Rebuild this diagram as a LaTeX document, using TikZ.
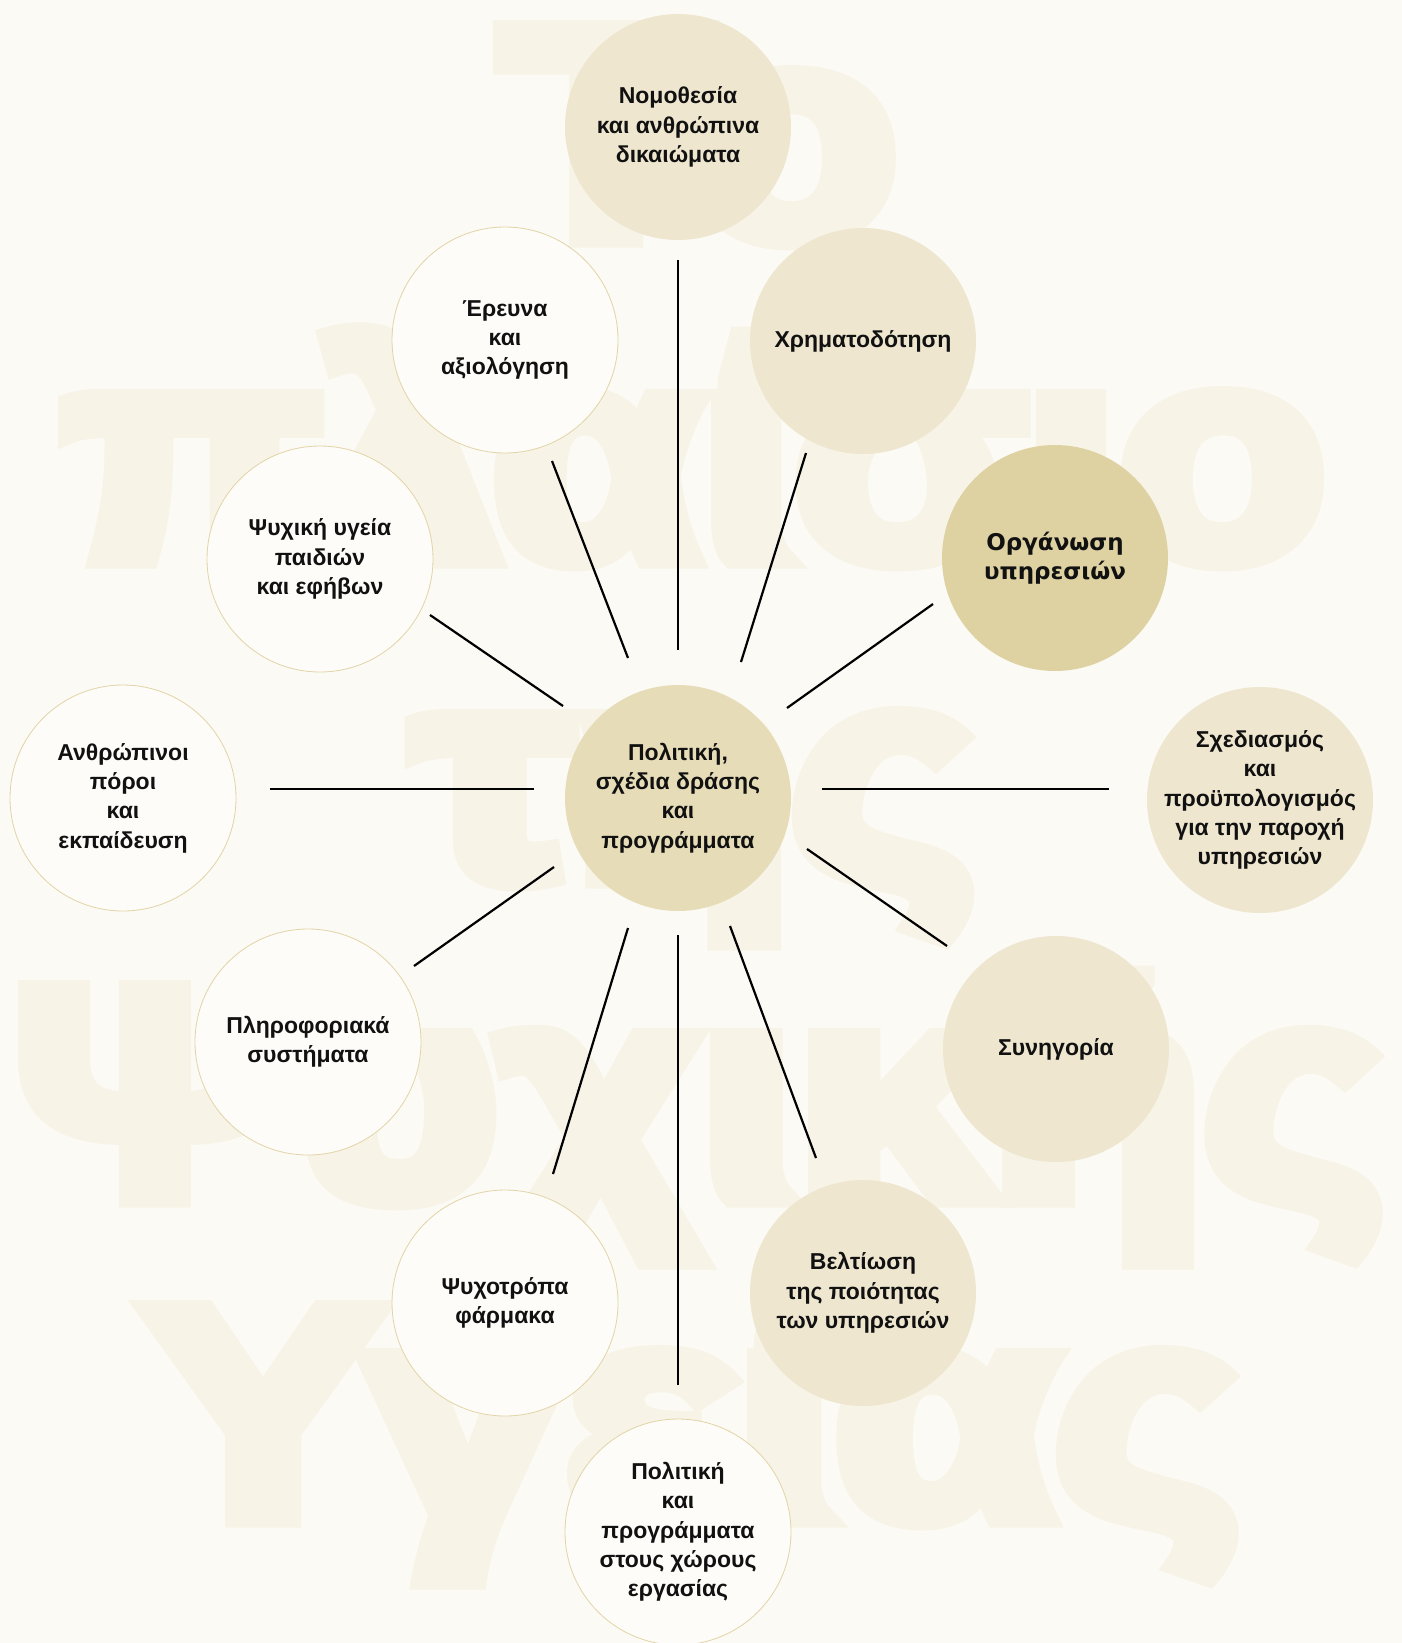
\documentclass[tikz,border=0pt]{standalone}
\usepackage{fontspec}
\usepackage{graphicx}
\setmainfont{Liberation Sans}
\newfontfamily\widefont{DejaVu Sans}
\newfontfamily\wmfont{Liberation Sans}[BoldFeatures={FakeBold=7}]
\usepackage{tikz}
\usetikzlibrary{calc}
\definecolor{paper}{RGB}{251,250,245}
\definecolor{wmfill}{RGB}{247,243,231}
\definecolor{hubfill}{RGB}{230,221,184}
\definecolor{keyfill}{RGB}{222,210,162}
\definecolor{topicfill}{RGB}{238,230,207}
\definecolor{openfill}{RGB}{253,252,248}
\definecolor{rim}{RGB}{226,212,166}
\definecolor{ink}{RGB}{17,17,17}
\tikzset{
    x=1pt,
    y=-1pt,
    disc/.style = {
        shape=circle,
        minimum size=226pt,
        inner sep=-14pt,
        align=center,
        text=ink,
        font=\fontsize{23}{29.3}\selectfont\bfseries
    },
    hub/.style = {
        disc,
        fill=hubfill
    },
    topic/.style = {
        disc,
        fill=topicfill
    },
    keytopic/.style = {
        disc,
        fill=keyfill,
        font=\fontsize{23}{29.3}\selectfont\widefont\bfseries
    },
    open/.style = {
        disc,
        fill=openfill,
        draw=rim,
        line width=0.8pt
    },
    spoke/.style = {
        draw=black,
        line width=2.2pt
    },
    wmark/.style = {
        anchor=base,
        inner sep=0pt,
        text=wmfill,
        font=\fontsize{300}{300}\selectfont\wmfont\bfseries
    }
}

\begin{document}
\begin{tikzpicture}
            \useasboundingbox (0,0) rectangle (1402,1643);
            \fill[paper] (0,0) rectangle (1402,1643);

            \node[wmark] (wmto) at (699,237) {\resizebox{396pt}{\height}{Το}};
            \node[wmark] (wmframe) at (694,558) {\resizebox{1262pt}{\height}{πλαίσιο}};
            \node[wmark] (wmof) at (695,878) {\resizebox{562pt}{\height}{της}};
            \node[wmark] (wmmind) at (699,1197) {\resizebox{1370pt}{\height}{Ψυχικής}};
            \node[wmark] (wmhealth) at (692,1517) {\resizebox{1096pt}{\height}{Υγείας}};

            \node[hub] (hub) at (678,798) {Πολιτική,\\σχέδια δράσης\\και\\προγράμματα};

            \node[topic] (nomos) at (678,127) {Νομοθεσία\\και ανθρώπινα\\δικαιώματα};
            \node[topic] (fund) at (863,341) {Χρηματοδότηση};
            \node[keytopic] (organ) at (1055,558) {Οργάνωση\\υπηρεσιών};
            \node[topic] (plan) at (1260,800) {Σχεδιασμός\\και\\προϋπολογισμός\\για την παροχή\\υπηρεσιών};
            \node[topic] (advoc) at (1056,1049) {Συνηγορία};
            \node[topic] (qual) at (863,1293) {Βελτίωση\\της ποιότητας\\των υπηρεσιών};
            \node[open] (work) at (678,1532) {Πολιτική\\και\\προγράμματα\\στους χώρους\\εργασίας};
            \node[open] (drugs) at (505,1303) {Ψυχοτρόπα\\φάρμακα};
            \node[open] (info) at (308,1042) {Πληροφοριακά\\συστήματα};
            \node[open] (hr) at (123,798) {Ανθρώπινοι\\πόροι\\και\\εκπαίδευση};
            \node[open] (child) at (320,559) {Ψυχική υγεία\\παιδιών\\και εφήβων};
            \node[open] (research) at (505,340) {Έρευνα\\και\\αξιολόγηση};

            \path[draw, spoke] ($(hub)+(0,-148)$) -- ($(nomos)+(0,133)$);
            \path[draw, spoke] ($(hub)+(63,-136)$) -- ($(fund)+(-57,112)$);
            \path[draw, spoke] ($(hub)+(109,-90)$) -- ($(organ)+(-122,46)$);
            \path[draw, spoke] ($(hub)+(144,-9)$) -- ($(plan)+(-151,-11)$);
            \path[draw, spoke] ($(hub)+(129,51)$) -- ($(advoc)+(-109,-103)$);
            \path[draw, spoke] ($(hub)+(52,128)$) -- ($(qual)+(-47,-135)$);
            \path[draw, spoke] ($(hub)+(0,137)$) -- ($(work)+(0,-147)$);
            \path[draw, spoke] ($(hub)+(-50,130)$) -- ($(drugs)+(48,-129)$);
            \path[draw, spoke] ($(hub)+(-124,69)$) -- ($(info)+(106,-76)$);
            \path[draw, spoke] ($(hub)+(-144,-9)$) -- ($(hr)+(147,-9)$);
            \path[draw, spoke] ($(hub)+(-115,-92)$) -- ($(child)+(110,56)$);
            \path[draw, spoke] ($(hub)+(-50,-140)$) -- ($(research)+(47,121)$);
        \end{tikzpicture}
\end{document}
